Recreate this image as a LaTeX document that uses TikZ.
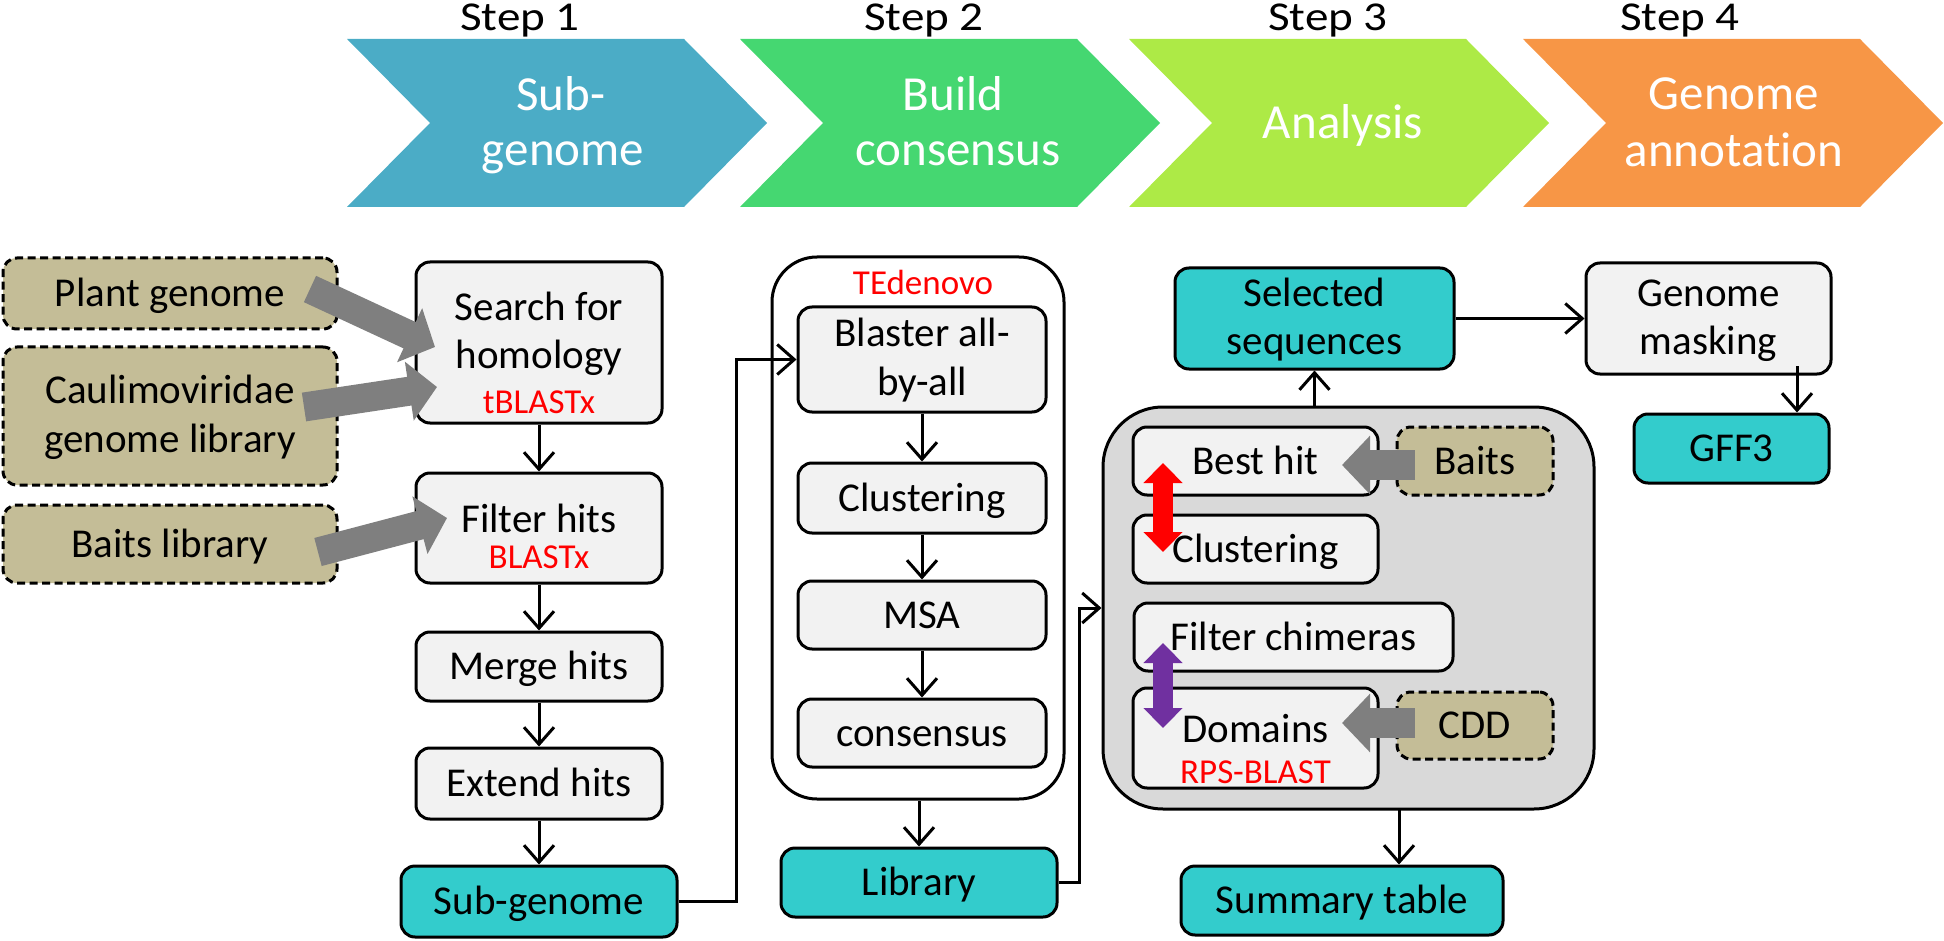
\documentclass[tikz,border=0pt]{standalone}
\usepackage{fontspec}
\setmainfont{Carlito}[Ligatures={NoCommon}]
\usetikzlibrary{arrows.meta,calc}
\definecolor{chevA}{HTML}{4BACC6}
\definecolor{chevB}{HTML}{45D771}
\definecolor{chevC}{HTML}{ADEA46}
\definecolor{chevD}{HTML}{F79646}
\definecolor{boxfill}{HTML}{F2F2F2}
\definecolor{tealbox}{HTML}{33CCCC}
\definecolor{tanbox}{HTML}{C4BD97}
\definecolor{graybg}{HTML}{D9D9D9}
\definecolor{arrgray}{HTML}{7F7F7F}
\definecolor{purp}{HTML}{7030A0}
\newcommand{\wideTxt}[1]{\scalebox{1.15}[1]{#1}}
\begin{document}
\begin{tikzpicture}[x=1pt,y=-1pt,
  steplbl/.style={font=\fontsize{41}{50}\selectfont, inner sep=0pt},
  chevtxt/.style={text=white, font=\fontsize{49}{56}\selectfont, inner sep=0pt},
  txt/.style={font=\fontsize{41}{48}\selectfont, inner sep=0pt},
  redtxt/.style={text=red, font=\fontsize{35}{40}\selectfont, inner sep=0pt},
  box/.style={draw, line width=3pt, rounded corners=14pt, fill=boxfill, inner sep=0pt,
    font=\fontsize{41}{48}\selectfont, text height=26pt, text depth=0pt},
  tbox/.style={box, fill=tealbox},
  dbox/.style={box, fill=tanbox, dash pattern=on 8pt off 4.5pt},
  conn/.style={line width=3pt, -{Straight Barb[length=17pt,width=30pt]}},
  fat/.style={line width=29pt, draw=arrgray, -{Triangle[length=28pt,width=58pt]}},
  dbl/.style={line width=20pt, {Triangle[length=20pt,width=38pt]}-{Triangle[length=20pt,width=38pt]}}
]
\useasboundingbox (0,0) rectangle (1944,941);

% ---------- chevrons ----------
\foreach \L/\c in {347/chevA,740/chevB,1129/chevC,1523/chevD}
  \fill[\c] (\L,39) -- ++(337,0) -- ++(83,84) -- ++(-83,84) -- ++(-337,0) -- ++(83,-84) -- cycle;

\node[steplbl, anchor=base] (s1) at (520,31) {\wideTxt{Step 1}};
\node[steplbl, anchor=base] (s2) at (924,31) {\wideTxt{Step 2}};
\node[steplbl, anchor=base] (s3) at (1328,31) {\wideTxt{Step 3}};
\node[steplbl, anchor=base] (s4) at (1680,31) {\wideTxt{Step 4}};

\node[chevtxt, anchor=base] (c1a) at (561,111) {Sub-};
\node[chevtxt, anchor=base] (c1b) at (563,166) {genome};
\node[chevtxt, anchor=base] (c2a) at (953,111) {Build};
\node[chevtxt, anchor=base] (c2b) at (958,166) {consensus};
\node[chevtxt, anchor=base] (c3a) at (1343,139) {Analysis};
\node[chevtxt, anchor=base] (c4a) at (1734,110) {Genome};
\node[chevtxt, anchor=base] (c4b) at (1734,167) {annotation};

% ---------- step 1 column ----------
\node[dbox, minimum width=334pt, minimum height=71pt] (plant) at (170,293.5) {Plant genome};
\node[dbox, minimum width=334pt, minimum height=138pt] (caul) at (170,416) {};
\node[txt, anchor=base] (caulA) at (170,403) {Caulimoviridae};
\node[txt, anchor=base] (caulB) at (170,452) {genome library};
\node[dbox, minimum width=334pt, minimum height=78pt] (baitslib) at (170,544) {Baits library};

\node[box, minimum width=246pt, minimum height=161pt] (search) at (539,342.5) {};
\node[txt, anchor=base] (searchA) at (539,320) {Search for};
\node[txt, anchor=base] (searchB) at (539,368) {homology};
\node[redtxt, anchor=base] (searchC) at (539,413) {tBLASTx};

\node[box, minimum width=246pt, minimum height=110pt] (filter) at (539,528) {};
\node[txt, anchor=base] (filterA) at (539,532) {Filter hits};
\node[redtxt, anchor=base] (filterB) at (539,568) {BLASTx};

\node[box, minimum width=246pt, minimum height=69pt] (merge) at (539,666.5) {Merge hits};
\node[box, minimum width=246pt, minimum height=71pt] (extend) at (539,783.5) {Extend hits};
\node[tbox, minimum width=276pt, minimum height=71pt] (sub) at (539,901.5) {Sub-genome};

\draw[conn] (search) -- (filter);
\draw[conn] (filter) -- (merge);
\draw[conn] (merge) -- (extend);
\draw[conn] (extend) -- (sub);

\coordinate (pa1) at (310,289);  \coordinate (pa2) at (435,347);
\coordinate (pb1) at (304,407);  \coordinate (pb2) at (437,387);
\coordinate (pc1) at (318,552);  \coordinate (pc2) at (447,518);
\draw[fat] (pa1) -- (pa2);
\draw[fat] (pb1) -- (pb2);
\draw[fat] (pc1) -- (pc2);

% ---------- step 2 column ----------
\node[draw, line width=3pt, fill=white, rounded corners=45pt, minimum width=292pt, minimum height=542pt, inner sep=0pt] (tede) at (918,528) {};
\node[redtxt, anchor=base] (tedeL) at (923,295) {TEdenovo};
\node[box, minimum width=248pt, minimum height=105pt] (blaster) at (922,359.5) {};
\node[txt, anchor=base] (blasterA) at (922,347) {Blaster all-};
\node[txt, anchor=base] (blasterB) at (922,395) {by-all};
\node[box, minimum width=248pt, minimum height=70pt] (clus1) at (922,498) {Clustering};
\node[box, minimum width=248pt, minimum height=68pt] (msa) at (922,615) {MSA};
\node[box, minimum width=248pt, minimum height=68pt] (cons) at (922,733) {consensus};
\node[tbox, minimum width=276pt, minimum height=69pt] (library) at (919,882.5) {Library};

\draw[conn] (blaster) -- (clus1);
\draw[conn] (clus1) -- (msa);
\draw[conn] (msa) -- (cons);
\draw[conn] (tede.south -| library.north) -- (library.north);
\draw[conn] (sub.east) -| ($(blaster.west)+(-60,0)$) -- (blaster.west);

% ---------- step 3 ----------
\node[draw, line width=3pt, fill=graybg, rounded corners=60pt, minimum width=491pt, minimum height=402pt, inner sep=0pt] (graybox) at (1348.5,608) {};
\node[box, minimum width=245pt, minimum height=68pt] (besthit) at (1255.5,461) {Best hit};
\node[dbox, minimum width=156pt, minimum height=68pt] (baits) at (1475,461) {Baits};
\node[box, minimum width=245pt, minimum height=68pt] (clus2) at (1255.5,549) {Clustering};
\node[box, minimum width=319pt, minimum height=68pt] (filtchim) at (1293.5,637) {Filter chimeras};
\node[box, minimum width=245pt, minimum height=100pt] (domains) at (1255.5,738) {};
\node[txt, anchor=base] (domA) at (1255.5,742) {Domains};
\node[redtxt, anchor=base] (domB) at (1255.5,783) {RPS-BLAST};
\node[dbox, minimum width=156pt, minimum height=67pt] (cdd) at (1475,725.5) {CDD};

\coordinate (ba1) at (1415,465); \coordinate (ba2) at (1342,465);
\coordinate (cd1) at (1415,723); \coordinate (cd2) at (1342,723);
\draw[fat, -{Triangle[length=28pt,width=57pt]}, line width=30pt] (ba1) -- (ba2);
\draw[fat, -{Triangle[length=28pt,width=57pt]}, line width=30pt] (cd1) -- (cd2);

\coordinate (rd1) at (1163,463); \coordinate (rd2) at (1163,552);
\coordinate (pu1) at (1163,643); \coordinate (pu2) at (1163,728);
\draw[dbl, draw=red, fill=red] (rd1) -- (rd2);
\draw[dbl, draw=purp, fill=purp] (pu1) -- (pu2);

\node[tbox, minimum width=279pt, minimum height=101pt] (selected) at (1314.5,318.5) {};
\node[txt, anchor=base] (selA) at (1314.5,307) {Selected};
\node[txt, anchor=base] (selB) at (1314.5,355) {sequences};
\node[tbox, minimum width=322pt, minimum height=69pt] (summary) at (1342,900.5) {Summary table};

\draw[conn] (library.east) -| ($(graybox.west)+(-22,0)$) -- (graybox.west);
\draw[conn] (graybox.north -| selected.south) -- (selected.south);
\coordinate (sm1) at (1399,809);
\draw[conn] (sm1) -- (sm1 |- summary.north);

% ---------- step 4 ----------
\node[box, minimum width=245pt, minimum height=111pt] (gmask) at (1708.5,318.5) {};
\node[txt, anchor=base] (gmA) at (1708.5,307) {Genome};
\node[txt, anchor=base] (gmB) at (1708.5,355) {masking};
\node[tbox, minimum width=195pt, minimum height=69pt] (gff3) at (1731.5,448.5) {GFF3};

\draw[conn] (selected.east) -- (gmask.west);
\coordinate (gm1) at (1797,366);
\draw[conn] (gm1) -- (gm1 |- gff3.north);
\end{tikzpicture}
\end{document}
